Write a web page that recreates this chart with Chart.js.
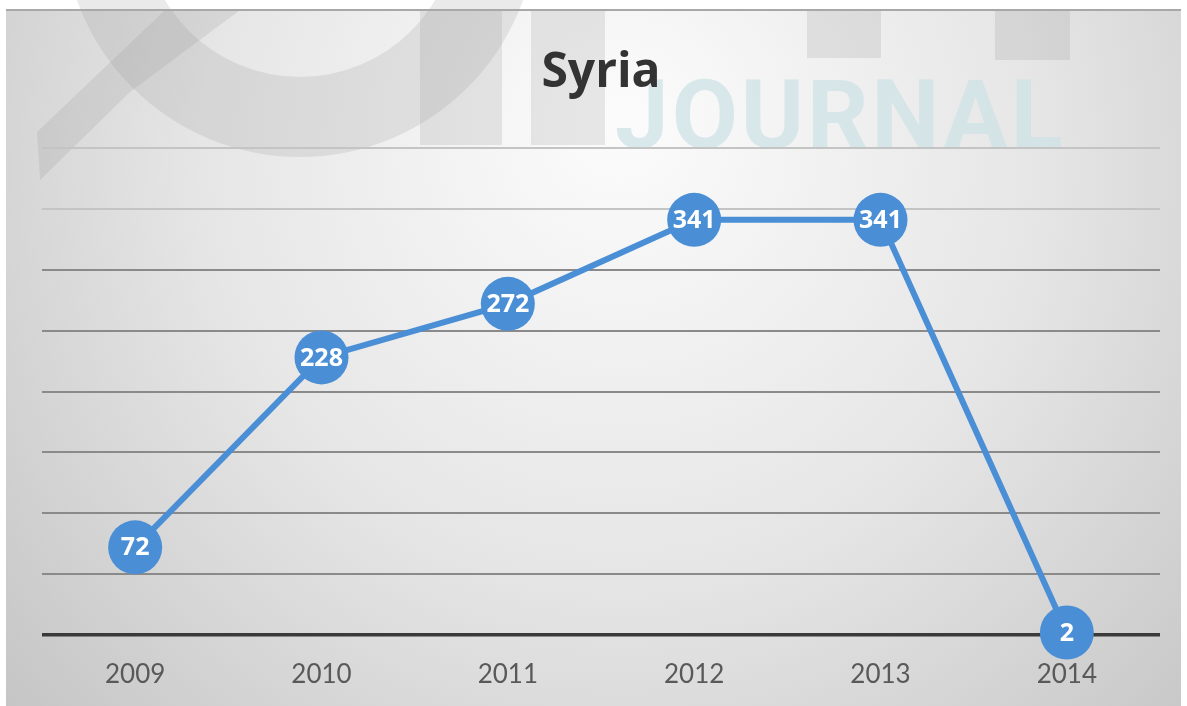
<!DOCTYPE html>
<html>
<head>
<meta charset="utf-8">
<script src="https://cdn.jsdelivr.net/npm/chart.js@4/dist/chart.umd.min.js"></script>
<style>
  html, body { margin: 0; padding: 0; background: #ffffff; }
  canvas { display: block; }
</style>
</head>
<body>
<canvas id="syriaChart" width="1187" height="706"></canvas>
<script>
// chart values
var years = ['2009', '2010', '2011', '2012', '2013', '2014'];
var counts = [72, 228, 272, 341, 341, 2];
var yTicks = [0, 50, 100, 150, 200, 250, 300, 350, 400];

var lineBlue = '#4a8fd6';

// panel background + faint watermark behind the plot
var panelBackground = {
  id: 'panelBackground',
  beforeDraw: function (chart) {
    var ctx = chart.ctx;
    ctx.save();
    ctx.fillStyle = '#ffffff';
    ctx.fillRect(0, 0, chart.width, chart.height);
    var g = ctx.createRadialGradient(620, 120, 20, 620, 200, 900);
    g.addColorStop(0, '#fbfbfb');
    g.addColorStop(0.45, '#e6e6e6');
    g.addColorStop(1, '#bdbdbd');
    ctx.fillStyle = g;
    ctx.fillRect(6, 10, chart.width - 12, chart.height - 10);

    // logo watermark (rough)
    ctx.fillStyle = 'rgba(150, 150, 150, 0.2)';
    ctx.beginPath();
    ctx.arc(300, -80, 237, 0, Math.PI);
    ctx.arc(300, -80, 157, Math.PI, 0, true);
    ctx.closePath();
    ctx.fill();
    ctx.beginPath();
    ctx.moveTo(37, 132);
    ctx.lineTo(165, 10);
    ctx.lineTo(240, 10);
    ctx.lineTo(130, 92);
    ctx.lineTo(40, 180);
    ctx.closePath();
    ctx.fill();
    ctx.fillRect(420, 10, 82, 135);
    ctx.fillRect(531, 10, 74, 135);
    ctx.fillRect(807, 10, 74, 48);
    ctx.fillRect(995, 10, 75, 50);

    ctx.fillStyle = '#a8a8a8';
    ctx.fillRect(6, 9, chart.width - 12, 2);

    ctx.fillStyle = 'rgba(205, 225, 229, 0.75)';
    ctx.font = 'bold 96px "Roboto", "Liberation Sans", sans-serif';
    ctx.textBaseline = 'alphabetic';
    ctx.textAlign = 'left';
    if ('letterSpacing' in ctx) ctx.letterSpacing = '3px';
    ctx.fillText('JOURNAL', 615, 148);
    ctx.restore();
  }
};

// numbers inside the markers
var pointLabels = {
  id: 'pointLabels',
  afterDatasetsDraw: function (chart) {
    var ctx = chart.ctx;
    var meta = chart.getDatasetMeta(0);
    ctx.save();
    ctx.fillStyle = '#ffffff';
    ctx.font = 'bold 25px "Open Sans", "Lato", sans-serif';
    ctx.textAlign = 'center';
    ctx.textBaseline = 'middle';
    meta.data.forEach(function (pt, i) {
      ctx.fillText(String(counts[i]), pt.x, pt.y + 1);
    });
    ctx.restore();
  }
};

var chart = new Chart(document.getElementById('syriaChart'), {
  type: 'line',
  data: {
    labels: years,
    datasets: [{
      label: 'Syria',
      data: counts,
      borderColor: lineBlue,
      borderWidth: 6,
      backgroundColor: lineBlue,
      pointRadius: 27,
      pointHoverRadius: 27,
      pointBorderWidth: 0,
      pointBackgroundColor: lineBlue,
      tension: 0,
      clip: false
    }]
  },
  options: {
    responsive: false,
    animation: false,
    events: [],
    layout: {
      autoPadding: false,
      padding: { left: 42, right: 27, top: 0, bottom: 0 }
    },
    plugins: {
      legend: { display: false },
      tooltip: { enabled: false },
      title: {
        display: true,
        text: 'Syria',
        color: '#333333',
        font: { family: '"Open Sans", "Lato", sans-serif', size: 48, weight: 'bold', lineHeight: 1.2 },
        padding: { top: 45, bottom: 45.4 }
      }
    },
    scales: {
      x: {
        offset: true,
        grid: { display: false, drawTicks: false },
        border: { display: false },
        ticks: {
          color: '#595959',
          padding: 24,
          font: { family: '"Lato", "Open Sans", sans-serif', size: 26 }
        },
        afterFit: function (scale) {
          scale.height = 71;
        }
      },
      y: {
        min: 0,
        max: 400,
        afterBuildTicks: function (axis) {
          axis.ticks = yTicks.map(function (v) { return { value: v }; });
        },
        ticks: { display: false },
        border: { display: false },
        grid: {
          drawTicks: false,
          color: function (c) {
            if (c.tick.value === 0) return '#3a3a3a';
            if (c.tick.value >= 350) return '#c4c4c4';
            return '#8a8a8a';
          },
          lineWidth: function (c) {
            return c.tick.value === 0 ? 3.5 : 2;
          }
        }
      }
    }
  },
  plugins: [panelBackground, pointLabels]
});
</script>
</body>
</html>
